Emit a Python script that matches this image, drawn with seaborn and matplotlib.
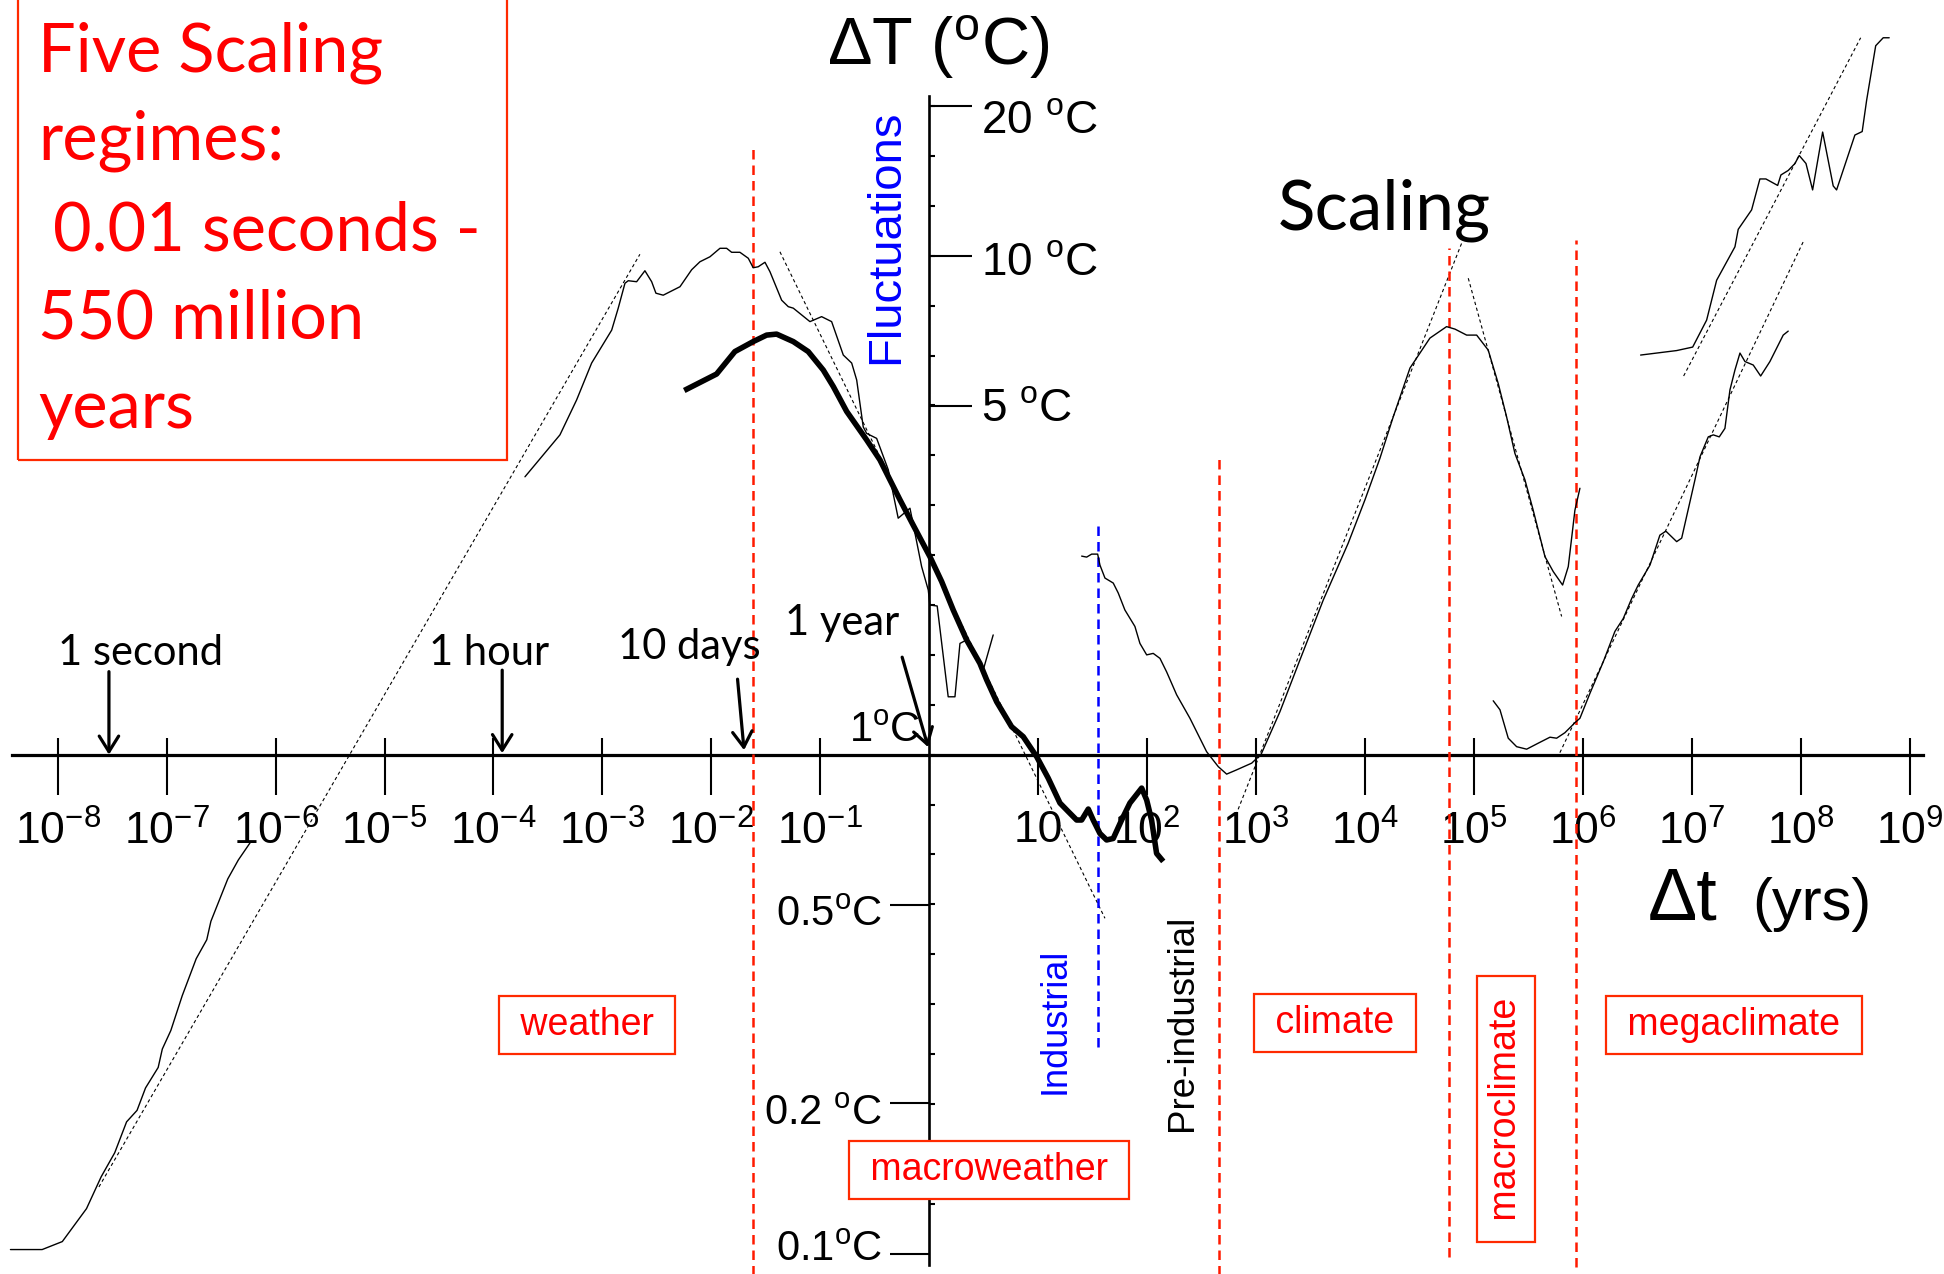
import numpy as np
import pandas as pd
import matplotlib
matplotlib.use("Agg")
import matplotlib.pyplot as plt
import matplotlib.patches as mpatches
from matplotlib.ticker import FixedLocator, FixedFormatter, NullLocator, NullFormatter
from matplotlib.transforms import ScaledTranslation
import seaborn as sns

# ---------------- data: log10(Δt / years) and log10(ΔT / °C) ----------------
weather_hf_logt = [-8.434, -8.143, -7.958, -7.736, -7.601, -7.477, -7.368, -7.272, -7.194, -7.078,
                   -7.040, -6.962, -6.857, -6.729, -6.632, -6.594, -6.439, -6.342, -6.226]
weather_hf_logT = [-0.992, -0.992, -0.976, -0.910, -0.846, -0.798, -0.736, -0.713, -0.668, -0.627,
                   -0.590, -0.553, -0.483, -0.409, -0.371, -0.334, -0.249, -0.211, -0.174]

weather_logt = [-3.711, -3.390, -3.237, -3.099, -2.915, -2.855, -2.793, -2.763, -2.686, -2.610,
                -2.548, -2.509, -2.442, -2.288, -2.181, -2.105, -2.013, -1.921, -1.860, -1.814,
                -1.738, -1.661, -1.616, -1.570, -1.508, -1.462, -1.355, -1.294, -1.248, -1.095,
                -0.988, -0.896, -0.789, -0.712, -0.666, -0.606, -0.575, -0.483, -0.376, -0.285,
                -0.177, -0.131, -0.070, -0.009, 0.006, 0.073, 0.174, 0.236, 0.282, 0.343,
                0.389, 0.450, 0.496, 0.587]
weather_logT = [0.557, 0.641, 0.711, 0.785, 0.851, 0.895, 0.945, 0.950, 0.948, 0.970,
                0.948, 0.925, 0.921, 0.938, 0.972, 0.988, 0.998, 1.015, 1.015, 1.007,
                1.007, 0.995, 0.976, 0.978, 0.987, 0.968, 0.911, 0.898, 0.895, 0.868,
                0.878, 0.868, 0.801, 0.785, 0.751, 0.657, 0.644, 0.634, 0.571, 0.474,
                0.494, 0.444, 0.377, 0.330, 0.300, 0.298, 0.116, 0.116, 0.223, 0.230,
                0.210, 0.190, 0.170, 0.240]

instrumental_logt = [-2.249, -1.952, -1.784, -1.616, -1.493, -1.401, -1.248, -1.111, -0.973, -0.881,
                     -0.758, -0.575, -0.453, -0.269, -0.147, 0.006, 0.114, 0.220, 0.343, 0.465,
                     0.527, 0.619, 0.756, 0.863, 0.986, 1.092, 1.200, 1.276, 1.353, 1.399,
                     1.460, 1.505, 1.567, 1.628, 1.689, 1.766, 1.842, 1.950, 1.996, 2.041,
                     2.087, 2.148]
instrumental_logT = [0.730, 0.763, 0.808, 0.828, 0.841, 0.843, 0.828, 0.808, 0.771, 0.738,
                     0.688, 0.631, 0.591, 0.511, 0.460, 0.397, 0.347, 0.290, 0.230, 0.183,
                     0.150, 0.106, 0.056, 0.036, -0.004, -0.047, -0.097, -0.114, -0.131, -0.131,
                     -0.109, -0.131, -0.158, -0.171, -0.168, -0.131, -0.097, -0.067, -0.091, -0.131,
                     -0.198, -0.214]

climate_logt = [1.399, 1.445, 1.491, 1.546, 1.567, 1.613, 1.689, 1.735, 1.796, 1.888,
                1.934, 1.996, 2.056, 2.118, 2.179, 2.271, 2.393, 2.546, 2.653, 2.730,
                2.816, 2.960, 3.047, 3.219, 3.403, 3.617, 3.846, 4.000, 4.137, 4.259,
                4.413, 4.596, 4.749, 4.826, 4.933, 5.025, 5.131, 5.223, 5.300, 5.376,
                5.468, 5.544, 5.652, 5.728, 5.814, 5.866, 5.927, 5.973]
climate_logT = [0.398, 0.396, 0.402, 0.402, 0.380, 0.354, 0.344, 0.324, 0.290, 0.257,
                0.223, 0.200, 0.203, 0.193, 0.166, 0.120, 0.073, 0.006, -0.024, -0.039,
                -0.031, -0.017, 0.001, 0.086, 0.190, 0.310, 0.424, 0.511, 0.594, 0.677,
                0.775, 0.835, 0.858, 0.853, 0.841, 0.841, 0.811, 0.744, 0.677, 0.604,
                0.551, 0.490, 0.397, 0.367, 0.340, 0.377, 0.490, 0.534]

mega_low_logt = [5.177, 5.239, 5.315, 5.392, 5.484, 5.590, 5.698, 5.759, 5.835, 5.927,
                 5.973, 6.065, 6.187, 6.294, 6.371, 6.448, 6.508, 6.616, 6.707, 6.762,
                 6.861, 6.907, 7.029, 7.075, 7.151, 7.197, 7.252, 7.304, 7.350, 7.396,
                 7.442, 7.488, 7.564, 7.632, 7.717, 7.839, 7.885]
mega_low_logT = [0.108, 0.090, 0.033, 0.016, 0.011, 0.023, 0.035, 0.033, 0.044, 0.064,
                 0.073, 0.123, 0.186, 0.247, 0.273, 0.313, 0.340, 0.380, 0.440, 0.448,
                 0.427, 0.434, 0.551, 0.597, 0.637, 0.641, 0.637, 0.654, 0.731, 0.771,
                 0.805, 0.788, 0.781, 0.759, 0.788, 0.841, 0.849]

mega_high_logt = [6.530, 6.861, 7.008, 7.136, 7.228, 7.396, 7.426, 7.549, 7.625, 7.680,
                  7.788, 7.818, 7.885, 7.947, 7.986, 8.048, 8.109, 8.201, 8.298, 8.329,
                  8.497, 8.564, 8.605, 8.688, 8.757, 8.812]
mega_high_logT = [0.801, 0.810, 0.817, 0.871, 0.951, 1.018, 1.053, 1.092, 1.154, 1.154,
                  1.141, 1.162, 1.171, 1.185, 1.201, 1.185, 1.132, 1.248, 1.140, 1.132,
                  1.242, 1.249, 1.312, 1.421, 1.437, 1.437]

# scaling fits (dotted straight lines): start / end
fit_logt_start = [-7.622, -1.3705, 2.815, 4.948, 5.789, 6.925]
fit_logT_start = [-0.8665, 1.008, -0.121, 0.955, 0.004, 0.759]
fit_logt_end = [-2.656, 1.613, 4.887, 5.805, 8.027, 8.550]
fit_logT_end = [1.003, -0.328, 1.025, 0.277, 1.030, 1.437]

# regime boundaries (log10 years)
regime_bounds_logt = [-1.618, 2.662, 4.768, 5.934]
regime_bounds_top_logT = [1.224, 0.593, 1.016, 1.031]
regime_bounds_bot_logT = [-1.10, -1.10, -1.007, -1.027]
industrial_bound_logt = 1.548
industrial_bound_range_logT = (-0.585, 0.460)

regime_names = ["weather", "macroweather", "climate", "macroclimate", "megaclimate"]

x_tick_exps = [-8, -7, -6, -5, -4, -3, -2, -1, 1, 2, 3, 4, 5, 6, 7, 8, 9]
x_tick_labels = [r"$\mathregular{10^{-8}}$", r"$\mathregular{10^{-7}}$", r"$\mathregular{10^{-6}}$",
                 r"$\mathregular{10^{-5}}$", r"$\mathregular{10^{-4}}$", r"$\mathregular{10^{-3}}$",
                 r"$\mathregular{10^{-2}}$", r"$\mathregular{10^{-1}}$", "10",
                 r"$\mathregular{10^{2}}$", r"$\mathregular{10^{3}}$", r"$\mathregular{10^{4}}$",
                 r"$\mathregular{10^{5}}$", r"$\mathregular{10^{6}}$", r"$\mathregular{10^{7}}$",
                 r"$\mathregular{10^{8}}$", r"$\mathregular{10^{9}}$"]
y_left_ticks = [0.1, 0.2, 0.5]
y_left_labels = [r"$\mathregular{0.1^oC}$", r"$\mathregular{0.2\ ^oC}$", r"$\mathregular{0.5^oC}$"]
y_right_ticks = [5, 10, 20]
y_right_labels = [r"$\mathregular{5\ ^oC}$", r"$\mathregular{10\ ^oC}$", r"$\mathregular{20\ ^oC}$"]

time_mark_labels = ["1 second", "1 hour", "10 days", "1 year"]
time_mark_logt = [-7.53, -3.92, -1.70, -0.01]

# ---------------- style ----------------
sns.set_theme(style="white")
plt.rcParams["font.family"] = ["Liberation Sans", "DejaVu Sans"]
plt.rcParams["mathtext.fontset"] = "custom"
plt.rcParams["mathtext.rm"] = "Liberation Sans"
plt.rcParams["mathtext.it"] = "Liberation Sans:italic"
plt.rcParams["mathtext.bf"] = "Liberation Sans:bold"
for k in ["text.color", "axes.labelcolor", "xtick.color", "ytick.color", "axes.edgecolor"]:
    plt.rcParams[k] = "black"

RED = "#FF1A00"
BOXRED = "#FF2A00"
BLUE = "#0000FF"
CALIBRI = ["Lato", "DejaVu Sans"]

W, H = 1944, 1274
fig = plt.figure(figsize=(W / 100, H / 100), dpi=100)
fig.patch.set_facecolor("white")
ax = fig.add_axes([0, 0, 1, 1])
XLIM = (10 ** -8.530, 10 ** 9.315)
YLIM = (10 ** -1.041, 10 ** 1.5127)
ax.set_xscale("log")
ax.set_yscale("log")


def fx(px):
    return px / W


def fy(py):
    return 1 - py / H


def curve(logt, logT, **kw):
    df = pd.DataFrame({"dt": np.power(10.0, logt), "dT": np.power(10.0, logT)})
    sns.lineplot(data=df, x="dt", y="dT", sort=False, estimator=None, ax=ax,
                 legend=False, **kw)


# scaling fit lines (dotted)
for t0, T0, t1, T1 in zip(fit_logt_start, fit_logT_start, fit_logt_end, fit_logT_end):
    curve([t0, t1], [T0, T1], color="black", lw=0.8, linestyle=(0, (3, 2.5)), zorder=2)

# thin data curves
for lt, lT in [(weather_hf_logt, weather_hf_logT), (weather_logt, weather_logT),
               (climate_logt, climate_logT), (mega_low_logt, mega_low_logT),
               (mega_high_logt, mega_high_logT)]:
    curve(lt, lT, color="black", lw=1.0, zorder=3)

# thick instrumental curve
curve(instrumental_logt, instrumental_logT, color="black", lw=4.0, zorder=4,
      solid_capstyle="butt")

# regime boundaries
ax.vlines(np.power(10.0, regime_bounds_logt), np.power(10.0, regime_bounds_bot_logT),
          np.power(10.0, regime_bounds_top_logT), colors=RED, lw=1.8,
          linestyles=[(0, (3.8, 2.4))], zorder=2)
ax.vlines([10 ** industrial_bound_logt], [10 ** industrial_bound_range_logT[0]],
          [10 ** industrial_bound_range_logT[1]], colors=BLUE, lw=1.8,
          linestyles=[(0, (3.8, 2.4))], zorder=2)

ax.set_xlim(*XLIM)
ax.set_ylim(*YLIM)
ax.set_xlabel("")
ax.set_ylabel("")
ax.set_facecolor("white")

# axes crossing at (1 yr, 1 °C)
ax.spines["top"].set_visible(False)
ax.spines["right"].set_visible(False)
ax.spines["left"].set_position(("data", 1.0))
ax.spines["bottom"].set_position(("data", 1.0))
ax.spines["bottom"].set_bounds(10 ** -8.42, 10 ** 9.12)
ax.spines["left"].set_bounds(10 ** -1.023, 10 ** 1.32)
ax.spines["bottom"].set_linewidth(2.3)
ax.spines["left"].set_linewidth(1.9)
ax.spines["bottom"].set_zorder(1)
ax.spines["left"].set_zorder(1)

xt = [10.0 ** e for e in x_tick_exps]
ax.xaxis.set_major_locator(FixedLocator(xt))
ax.xaxis.set_major_formatter(FixedFormatter(x_tick_labels))
ax.xaxis.set_minor_locator(FixedLocator(xt))
ax.xaxis.set_minor_formatter(NullFormatter())
ax.xaxis.remove_overlapping_locs = False
ax.tick_params(axis="x", which="major", bottom=True, top=False, direction="out",
               length=29, width=1.5, pad=11, labelsize=32, colors="black")
ax.tick_params(axis="x", which="minor", bottom=True, top=False, direction="in",
               length=12, width=1.5)

ax.yaxis.set_major_locator(FixedLocator(y_left_ticks))
ax.yaxis.set_major_formatter(FixedFormatter(y_left_labels))
ax.yaxis.set_minor_locator(FixedLocator(np.power(10.0, np.arange(-1.0, 1.31, 0.1))))
ax.yaxis.set_minor_formatter(NullFormatter())
ax.tick_params(axis="y", which="major", left=True, right=False, direction="out",
               length=28, width=1.5, pad=6, labelsize=30, colors="black")
ax.tick_params(axis="y", which="minor", left=True, right=False, direction="in",
               length=4, width=1.5)

# right-hand ticks of the temperature axis
ax2 = fig.add_axes([0, 0, 1, 1], label="right-ticks")
ax2.set_xscale("log")
ax2.set_yscale("log")
ax2.set_xlim(*XLIM)
ax2.set_ylim(*YLIM)
ax2.patch.set_visible(False)
for s in ["top", "left", "bottom", "right"]:
    ax2.spines[s].set_visible(False)
ax2.spines["right"].set_position(("data", 1.0))
ax2.xaxis.set_major_locator(NullLocator())
ax2.xaxis.set_minor_locator(NullLocator())
ax2.yaxis.tick_right()
ax2.yaxis.set_major_locator(FixedLocator(y_right_ticks))
ax2.yaxis.set_major_formatter(FixedFormatter(y_right_labels))
ax2.yaxis.set_minor_locator(NullLocator())
ax2.tick_params(axis="y", which="major", right=True, left=False, labelright=True,
                labelleft=False, direction="out", length=31, width=1.5, pad=6,
                labelsize=33, colors="black")

# time-scale arrows
arrow_tails = [(0, 83), (0, 83), (-6.5, 71), (-26, 90)]
arrow_tip_logT = [0.0, 0.003, 0.009, 0.015]
for lt, lT, (dx, dy) in zip(time_mark_logt, arrow_tip_logT, arrow_tails):
    ax.annotate("", xy=(10 ** lt, 10 ** lT), xytext=(dx, dy), textcoords="offset pixels",
                arrowprops=dict(arrowstyle="->,head_length=0.8,head_width=0.5",
                                lw=2.3, color="black", shrinkA=0, shrinkB=0,
                                mutation_scale=14), zorder=6)
label_pos = [(140, 665), (489, 665), (689, 659), (842, 635)]
for txt, (px, py) in zip(time_mark_labels, label_pos):
    fig.text(fx(px), fy(py), txt, ha="center", va="baseline", fontsize=30,
             family=CALIBRI, color="black")

fig.text(fx(920), fy(742), r"$\mathregular{1^oC}$", ha="right", va="baseline",
         fontsize=30, color="black")

# axis titles
fig.text(fx(827), fy(65), r"$\mathregular{\Delta T\ (^oC)}$", ha="left", va="baseline",
         fontsize=48, color="black")
fig.text(fx(886), fy(237), "Fluctuations", rotation=90, ha="center", va="center",
         fontsize=34, color=BLUE)
fig.text(fx(1648), fy(920), "Δt", ha="left", va="baseline", fontsize=53, color="black")
fig.text(fx(1752), fy(920), "(yrs)", ha="left", va="baseline", fontsize=43, color="black")
fig.text(fx(1278), fy(230), "Scaling", ha="left", va="baseline", fontsize=50,
         family=CALIBRI, color="black")

# boxed headline
fig.add_artist(mpatches.Rectangle((fx(18), fy(460)), (507 - 18) / W, 470 / H,
                                  transform=fig.transFigure, fill=False,
                                  ec=BOXRED, lw=1.6))
headline = [("Five Scaling", 38, 72), ("regimes:", 38, 160), ("0.01 seconds -", 53, 250),
            ("550 million", 38, 338), ("years", 38, 428)]
for txt, px, py in headline:
    fig.text(fx(px), fy(py), txt, ha="left", va="baseline", fontsize=48,
             family=CALIBRI, color="#FF0000")

# industrial / pre-industrial
fig.text(fx(1055), fy(1021), "Industrial", rotation=90, ha="center", va="center",
         fontsize=26, color=BLUE)
fig.text(fx(1182), fy(1023), "Pre-industrial", rotation=90, ha="center", va="center",
         fontsize=26.5, color="black")

# regime boxes
box_centers = [(587, 1025), (989, 1170), (1335, 1023), (1506, 1109), (1734, 1025)]
box_rot = [0, 0, 0, 90, 0]
for name, (px, py), rot in zip(regime_names, box_centers, box_rot):
    fig.text(fx(px), fy(py), f" {name} ", rotation=rot, ha="center", va="center",
             fontsize=27, color="#FF0000", zorder=7,
             bbox=dict(boxstyle="square,pad=0.3", fc="white", ec=BOXRED, lw=1.6))

# nudge the temperature tick labels to where the reference prints them
fig.canvas.draw()


def nudge(labels, offsets_px):
    for lab, d in zip(labels, offsets_px):
        lab.set_transform(lab.get_transform()
                          + ScaledTranslation(0, -d / 100, fig.dpi_scale_trans))


nudge(ax.yaxis.get_majorticklabels(), [-8, 6, 6])
nudge(ax2.yaxis.get_majorticklabels(), [-2, 2, 10])

fig.savefig("out.png", dpi=100, facecolor="white")
